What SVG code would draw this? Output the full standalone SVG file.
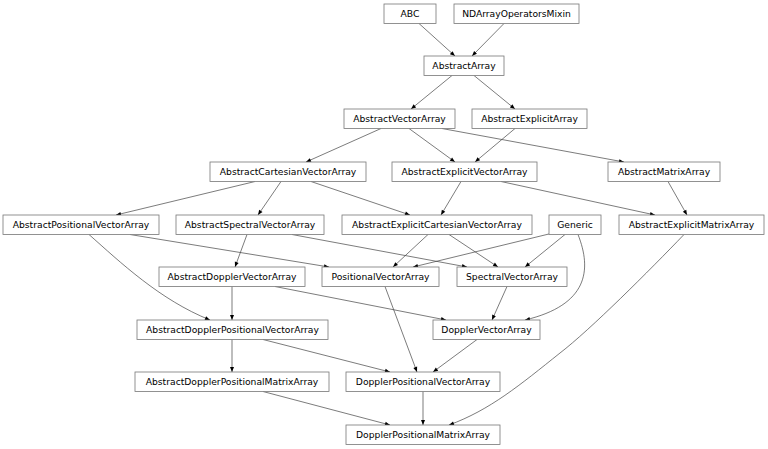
<svg xmlns="http://www.w3.org/2000/svg" width="768" height="449" viewBox="0 0 768 449">
<style>
.n rect{fill:#fff;stroke:#777;stroke-width:0.8}
.n text{font-family:"DejaVu Sans",sans-serif;font-size:9.2px;fill:#000;text-anchor:middle}
.e path{fill:none;stroke:#444;stroke-width:0.7;marker-end:url(#a)}
</style>
<defs>
<marker id="a" viewBox="0 0 10 10" refX="10" refY="5" markerWidth="6" markerHeight="5" markerUnits="userSpaceOnUse" orient="auto">
<path d="M0,1 L10,5 L0,9 z" fill="#000"/>
</marker>
</defs>
<rect width="768" height="449" fill="#fff"/>
<g id="edges" class="e">
<path d="M419,23.5 L455,56"/>
<path d="M504,23.5 L472,56"/>
<path d="M452,75.5 L411,109"/>
<path d="M474,75.5 L515,109"/>
<path d="M381,128.5 L306,162"/>
<path d="M409,128.5 L455,162"/>
<path d="M442,128.5 L624,162"/>
<path d="M515,128.5 L475,162"/>
<path d="M255,181.5 L116,215"/>
<path d="M281,181.5 L258,215"/>
<path d="M311,181.5 L410,215"/>
<path d="M461,181.5 L441,215"/>
<path d="M501,181.5 L655,215"/>
<path d="M668,181.5 L687,215"/>
<path d="M130,234.5 L329,267"/>
<path d="M89,234.5 C120,262 160,300 210,320"/>
<path d="M247,234.5 L235,267"/>
<path d="M292,234.5 L467,267"/>
<path d="M428,234.5 L393,267"/>
<path d="M449,234.5 L498,267"/>
<path d="M553,233 L413,267"/>
<path d="M565,234.5 L525,267"/>
<path d="M578,234.5 C592,270 588,305 525,320"/>
<path d="M684,234.5 C650,270 590,330 560,353 C520,385 490,410 449,425"/>
<path d="M232,286.5 L232,320"/>
<path d="M275,286.5 L446,320"/>
<path d="M385,286.5 L417,372"/>
<path d="M507,286.5 L492,320"/>
<path d="M232,339.5 L232,372"/>
<path d="M263,339.5 L390,372"/>
<path d="M477,339.5 L433,372"/>
<path d="M263,391.5 L390,425"/>
<path d="M423,391.5 L423,425"/>
</g>
<g id="ABC" class="n"><rect x="384" y="4" width="52" height="19.5"/><text x="410" y="16.9">ABC</text></g>
<g id="NDArrayOperatorsMixin" class="n"><rect x="454" y="4" width="125" height="19.5"/><text x="516.5" y="16.9">NDArrayOperatorsMixin</text></g>
<g id="AbstractArray" class="n"><rect x="424" y="56" width="80" height="19.5"/><text x="464" y="68.9">AbstractArray</text></g>
<g id="AbstractVectorArray" class="n"><rect x="344" y="109" width="111" height="19.5"/><text x="399.5" y="121.9">AbstractVectorArray</text></g>
<g id="AbstractExplicitArray" class="n"><rect x="472" y="109" width="115" height="19.5"/><text x="529.5" y="121.9">AbstractExplicitArray</text></g>
<g id="AbstractCartesianVectorArray" class="n"><rect x="210" y="162" width="156" height="19.5"/><text x="288" y="174.9">AbstractCartesianVectorArray</text></g>
<g id="AbstractExplicitVectorArray" class="n"><rect x="392" y="162" width="145" height="19.5"/><text x="464.5" y="174.9">AbstractExplicitVectorArray</text></g>
<g id="AbstractMatrixArray" class="n"><rect x="608" y="162" width="112" height="19.5"/><text x="664" y="174.9">AbstractMatrixArray</text></g>
<g id="AbstractPositionalVectorArray" class="n"><rect x="3" y="215" width="156" height="19.5"/><text x="81" y="227.9">AbstractPositionalVectorArray</text></g>
<g id="AbstractSpectralVectorArray" class="n"><rect x="176" y="215" width="148" height="19.5"/><text x="250" y="227.9">AbstractSpectralVectorArray</text></g>
<g id="AbstractExplicitCartesianVectorArray" class="n"><rect x="342" y="215" width="190" height="19.5"/><text x="437" y="227.9">AbstractExplicitCartesianVectorArray</text></g>
<g id="Generic" class="n"><rect x="549" y="215" width="52" height="19.5"/><text x="575" y="227.9">Generic</text></g>
<g id="AbstractExplicitMatrixArray" class="n"><rect x="619" y="215" width="145" height="19.5"/><text x="691.5" y="227.9">AbstractExplicitMatrixArray</text></g>
<g id="AbstractDopplerVectorArray" class="n"><rect x="159" y="267" width="146" height="19.5"/><text x="232" y="279.9">AbstractDopplerVectorArray</text></g>
<g id="PositionalVectorArray" class="n"><rect x="322" y="267" width="117" height="19.5"/><text x="380.5" y="279.9">PositionalVectorArray</text></g>
<g id="SpectralVectorArray" class="n"><rect x="457" y="267" width="110" height="19.5"/><text x="512" y="279.9">SpectralVectorArray</text></g>
<g id="AbstractDopplerPositionalVectorArray" class="n"><rect x="137" y="320" width="191" height="19.5"/><text x="232.5" y="332.9">AbstractDopplerPositionalVectorArray</text></g>
<g id="DopplerVectorArray" class="n"><rect x="433" y="320" width="107" height="19.5"/><text x="486.5" y="332.9">DopplerVectorArray</text></g>
<g id="AbstractDopplerPositionalMatrixArray" class="n"><rect x="135" y="372" width="194" height="19.5"/><text x="232" y="384.9">AbstractDopplerPositionalMatrixArray</text></g>
<g id="DopplerPositionalVectorArray" class="n"><rect x="346" y="372" width="154" height="19.5"/><text x="423" y="384.9">DopplerPositionalVectorArray</text></g>
<g id="DopplerPositionalMatrixArray" class="n"><rect x="346" y="425" width="154" height="19.5"/><text x="423" y="437.9">DopplerPositionalMatrixArray</text></g>
</svg>
